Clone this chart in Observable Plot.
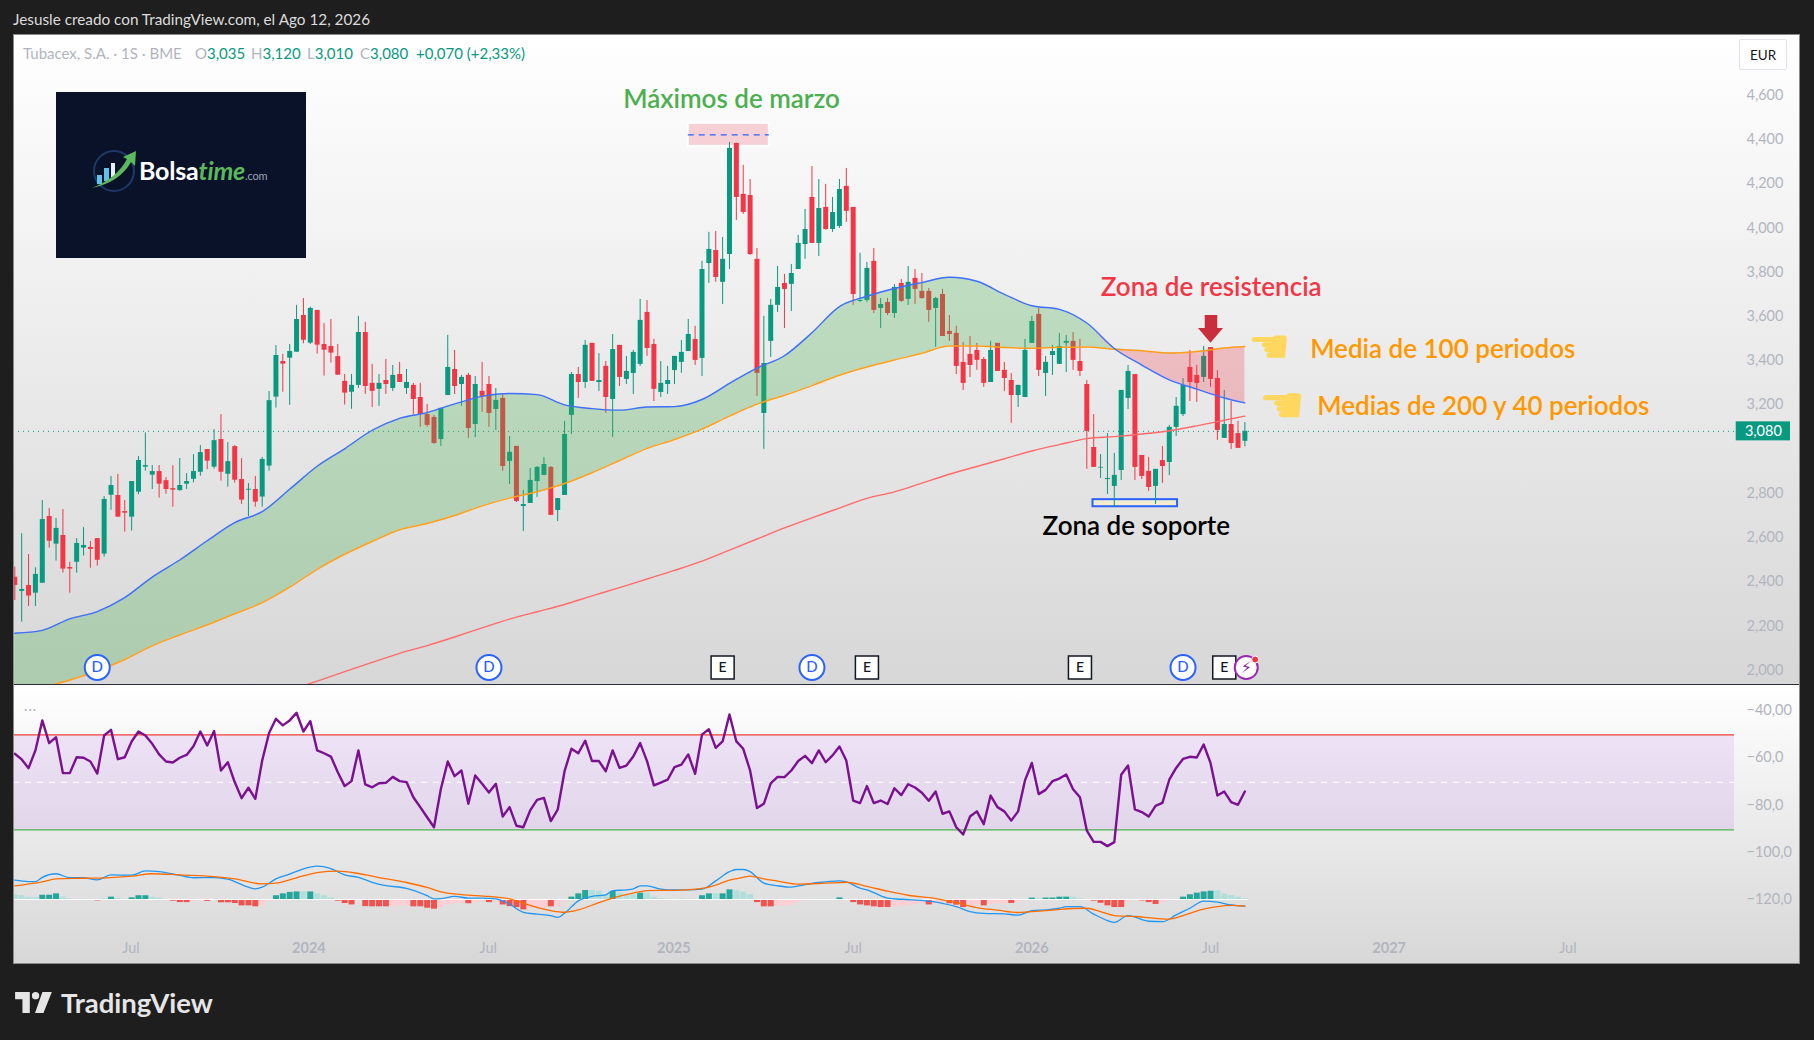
<!DOCTYPE html>
<html lang="es">
<head>
<meta charset="utf-8">
<title>Tubacex, S.A. · 1S · BME</title>
<script src="https://cdn.jsdelivr.net/npm/d3@7"></script>
<script src="https://cdn.jsdelivr.net/npm/@observablehq/plot@0.6"></script>
<style>
html,body{margin:0;padding:0;background:#1e1e1e;}
#stage{position:relative;width:1814px;height:1040px;overflow:hidden;background:#1e1e1e;font-family:Lato,"Noto Sans",sans-serif;}
.abs{position:absolute;}
#caption{left:13px;top:10px;font-size:15.3px;color:#dcdcdc;white-space:nowrap;}
.pane{left:13px;width:1787px;background:linear-gradient(#ffffff,#d7d7d7);overflow:hidden;}
#main{top:34px;height:650px;}
#lower{top:685px;height:279px;}
.pane svg{position:absolute;left:0;top:0;background:transparent!important;overflow:visible;}
#sep{left:13px;top:684px;width:1787px;height:1px;background:#2a2e39;}
#border{left:13px;top:34px;width:1787px;height:930px;box-shadow:inset 0 0 0 1px #8a8a8a;pointer-events:none;}
#legend{left:10px;top:10px;font-size:15px;color:#b2b5be;white-space:nowrap;}
#legend span{position:absolute;top:0;white-space:nowrap;}
#legend b{font-weight:400;color:#089981;}
#eur{left:1726px;top:5px;width:48px;height:31px;line-height:31px;text-align:center;font-size:13.5px;color:#131722;background:#fff;border:1px solid #e0e3eb;box-sizing:border-box;border-radius:2px;}
#logo{left:43px;top:58px;width:250px;height:166px;background:#0a1229;}
#logoText{position:absolute;left:83px;top:63px;font-size:25px;font-weight:700;color:#fff;white-space:nowrap;letter-spacing:-.2px;}
#logoText i{color:#5cb85c;font-weight:700;}
#logoText small{font-size:11px;color:#9aa3b5;font-weight:400;}
#dots{left:11px;top:16px;font-size:13px;color:#b2b5be;letter-spacing:1px;}
#tv{left:15px;top:986px;display:flex;align-items:center;color:#e6e6e6;font-size:27.5px;font-weight:700;}
#tv svg{margin-right:8px;}
</style>
</head>
<body>
<div id="stage">
  <div id="caption" class="abs">Jesusle creado con TradingView.com, el Ago 12, 2026</div>
  <div id="main" class="abs pane"></div>
  <div id="lower" class="abs pane"></div>
  <div id="sep" class="abs"></div>
  <div id="border" class="abs"></div>
  <div id="tv" class="abs">
    <svg width="38" height="21" viewBox="0 0 36 20" fill="#e6e6e6"><path d="M14 0H0v7h7v13h7V0Zm13 20h-8l7-20h9l-8 20ZM19.5 7a3.5 3.5 0 1 0 0-7 3.5 3.5 0 0 0 0 7Z"/></svg>
    <span>TradingView</span>
  </div>
</div>
<script>
// Weekly candles, thousandths of a euro
const open = [2420,2356,2383,2348,2393,2695,2570,2609,2464,2488,2552,2555,2595,2525,2791,2790,2717,2692,2805,2918,2882,2898,2857,2821,2812,2841,2863,2895,2998,2918,3043,2886,3011,2862,2814,2817,2783,2923,3235,3396,3411,3438,3604,3479,3627,3473,3464,3418,3306,3257,3288,3527,3297,3270,3310,3274,3337,3274,3288,3233,3156,3143,3043,3242,3360,3292,3333,3111,3261,3292,3179,3229,2944,3012,2740,2754,2853,2881,2917,2722,2790,3152,3337,3301,3478,3301,3374,3224,3469,3315,3342,3383,3618,3473,3256,3292,3355,3392,3441,3496,3410,3839,3898,3754,3880,4382,4152,4147,3858,3161,3487,3650,3749,3745,3812,3925,4138,3930,4093,3993,4007,4188,4093,3668,3672,3849,3636,3663,3613,3749,3677,3772,3713,3713,3636,3699,3532,3523,3392,3428,3446,3405,3301,3478,3356,3310,3242,3233,3478,3609,3342,3423,3383,3478,3487,3396,3292,3007,2914,2862,2831,2903,3229,3337,2971,2899,2831,2948,2939,3098,3156,3369,3333,3324,3459,3319,3048,3111,3070,3035];
const high = [2466,2617,2523,2463,2767,2731,2686,2726,2488,2595,2645,2582,2595,2785,2876,2885,2767,2853,2966,3073,2925,2925,2871,2925,2957,2889,2975,3016,2998,3088,3156,3029,3016,2957,2844,2876,2962,3260,3468,3428,3473,3650,3681,3642,3627,3568,3586,3473,3337,3337,3600,3573,3383,3337,3405,3378,3392,3360,3297,3297,3202,3152,3184,3514,3446,3333,3342,3328,3392,3328,3274,3247,3057,3012,2813,2912,2921,2962,2921,2776,3125,3346,3369,3491,3478,3432,3396,3518,3469,3419,3446,3677,3672,3496,3396,3374,3419,3491,3586,3555,3849,3980,3984,3957,4387,4384,4283,4219,3907,3600,3677,3826,3790,3835,3966,4084,4278,4219,4197,4138,4219,4269,4093,3885,3844,3907,3681,3681,3744,3767,3826,3812,3794,3726,3686,3722,3604,3555,3482,3509,3478,3414,3487,3478,3392,3342,3288,3496,3600,3636,3419,3469,3523,3514,3527,3496,3310,3156,2975,3070,2980,3265,3378,3337,2971,2962,2908,3012,3107,3233,3319,3446,3378,3464,3459,3355,3265,3215,3125,3120];
const low = [2315,2217,2288,2288,2393,2552,2493,2439,2348,2439,2516,2461,2470,2511,2723,2692,2624,2629,2793,2900,2817,2778,2796,2737,2809,2817,2847,2877,2907,2909,2855,2827,2846,2750,2695,2737,2737,2900,3185,3257,3198,3438,3476,3473,3429,3330,3389,3334,3199,3180,3274,3247,3188,3193,3247,3260,3301,3247,3156,3098,3098,3021,3012,3242,3247,3193,3048,3052,3166,3098,3084,2899,2840,2758,2627,2754,2781,2881,2700,2672,2790,3066,3229,3274,3306,3260,3161,3052,3283,3292,3247,3374,3419,3215,3233,3247,3292,3343,3441,3378,3328,3749,3754,3654,3812,4034,4061,3876,3238,2998,3414,3618,3545,3622,3812,3858,3930,3871,3989,3980,3998,4025,3650,3663,3663,3613,3545,3604,3591,3663,3650,3654,3677,3573,3460,3509,3487,3337,3265,3324,3356,3279,3301,3351,3260,3116,3188,3233,3478,3328,3238,3333,3383,3346,3356,3328,2908,2917,2867,2795,2740,2858,3179,2858,2862,2808,2749,2844,2880,3057,3147,3215,3211,3301,3279,3039,3048,2998,3003,3010];
const close = [2383,2365,2335,2433,2681,2583,2641,2457,2457,2573,2564,2546,2497,2772,2835,2692,2710,2853,2948,2925,2898,2841,2817,2814,2835,2853,2898,2984,2945,3038,2895,2943,2859,2769,2818,2760,2953,3219,3423,3384,3441,3586,3492,3636,3470,3447,3434,3334,3253,3288,3527,3283,3261,3297,3292,3333,3301,3301,3224,3156,3107,3025,3184,3369,3283,3324,3093,3292,3238,3161,3220,2921,2985,2763,2749,2858,2917,2930,2700,2776,3066,3337,3301,3469,3306,3310,3233,3450,3324,3351,3437,3582,3455,3270,3297,3310,3419,3437,3518,3401,3812,3903,3776,3858,4360,4138,4070,3880,3342,3387,3650,3731,3722,3794,3930,3993,3930,4088,3993,4070,4174,4075,3699,3672,3817,3627,3654,3613,3731,3668,3754,3722,3681,3627,3681,3509,3518,3374,3297,3378,3401,3297,3446,3351,3319,3242,3288,3446,3577,3356,3392,3441,3464,3487,3401,3351,3080,2917,2917,2867,2881,3265,3351,2917,2876,2826,2908,2921,3098,3193,3288,3301,3297,3419,3315,3084,3111,3025,3003,3080];

// Moving averages, read every fourth bar
const maBars  = [0,4,8,12,16,20,24,28,32,36,40,44,48,52,56,60,64,68,72,76,80,84,88,92,96,100,104,108,112,116,120,124,128,132,136,140,144,148,152,156,160,164,168,172,176,179];
const ma40    = [2167,2180,2232,2265,2328,2421,2498,2585,2667,2717,2818,2922,3001,3085,3139,3165,3204,3238,3251,3246,3200,3183,3176,3190,3192,3224,3297,3366,3422,3526,3644,3691,3726,3753,3777,3759,3700,3648,3632,3570,3455,3380,3313,3271,3231,3209];
const ma100   = [1880,1920,1955,1996,2048,2110,2159,2205,2255,2305,2375,2456,2524,2582,2635,2663,2699,2743,2778,2807,2844,2893,2948,3003,3043,3090,3149,3203,3243,3287,3334,3371,3403,3433,3466,3466,3459,3456,3460,3461,3451,3445,3434,3441,3457,3464];
const ma200Bars = [40,44,48,52,56,60,64,68,72,76,80,84,88,92,96,100,104,108,112,116,120,124,128,132,136,140,144,148,152,156,160,164,168,172,176,179];
const ma200   = [1910,1950,1993,2035,2076,2111,2150,2191,2231,2264,2297,2336,2373,2412,2451,2493,2543,2593,2643,2689,2733,2777,2806,2846,2886,2921,2956,2991,3020,3047,3056,3068,3083,3105,3130,3149];

// Oscillator pane
const rsi = [-58.3,-60.7,-64.4,-56.9,-44.2,-53.8,-51.3,-66.5,-66.5,-59.8,-60,-61.6,-66.7,-50.6,-48.2,-60.6,-59.8,-53.1,-48.9,-50.6,-54.1,-58.6,-61.6,-62,-60,-58.8,-55.1,-48.9,-54.8,-48.7,-65.4,-61.9,-70.3,-77.1,-72.7,-77.4,-61.2,-49.5,-43.5,-46.3,-44.2,-41,-48.9,-44.5,-56.9,-58.1,-59.5,-66.1,-72,-69.9,-56.9,-71.3,-72.5,-70.8,-70.6,-68.1,-69.9,-70.3,-76.7,-80.9,-85.2,-89.4,-73.2,-61.6,-67.8,-65.4,-79.5,-67.5,-71,-74.7,-71,-84.9,-80.9,-88.8,-89.4,-82.3,-77.8,-77,-86.8,-82,-65.7,-56.2,-58.1,-52.8,-61.4,-61.4,-65.7,-56.9,-64.3,-63.3,-59.5,-53.8,-61.4,-71.7,-70.5,-69.3,-64,-62.9,-58.6,-66.8,-50.2,-47.9,-55.8,-53.1,-41.7,-53.1,-56.2,-65.4,-81.3,-79.5,-70.8,-68.1,-68.2,-65.4,-61.4,-59.2,-62.3,-56.9,-61.9,-59,-55.2,-61.2,-78.1,-79.2,-72,-79.2,-78.1,-79.6,-72.9,-75.8,-71.2,-72.6,-74.8,-78.2,-74.3,-83.7,-82.7,-89.4,-92.5,-84.9,-82.7,-88.1,-76,-80.9,-82.7,-86.6,-82.7,-69.6,-62.2,-75.4,-73.6,-69.9,-68.8,-67.1,-73.3,-76.7,-90.8,-95.6,-95.6,-97.4,-95.7,-67.2,-63.3,-81.9,-83,-84.9,-80.4,-79.1,-69.3,-64.3,-60.5,-59.6,-59.9,-54.4,-62.2,-76,-74.3,-78.8,-79.9,-74.3];
const macdBars = [0,2,3,4,6,8,10,12,14,17,19,21,24,26,29,31,34,35,36,38,40,42,44,46,48,50,52,54,57,60,61,62,64,66,68,70,72,74,76,78,79,80,82,84,86,87,89,90,91,92,94,95,98,100,102,104,105,106,107,109,111,113,115,117,120,121,123,124,127,129,133,135,137,139,141,144,146,148,150,152,153,155,157,159,160,162,165,167,169,171,173,175,177,179];
const macd = [8.2,7.6,7.6,9.4,10.9,9.2,9.2,8.3,10.4,10.3,12.1,11.8,10.2,9.2,9.3,8.6,5.2,4.5,5.2,8.7,10.7,13,14.1,13.1,10.4,9.4,7.3,5.9,4.7,1.6,.3,.4,1.3,.6,.6,.3,-2,-5.4,-6.2,-6.8,-7.6,-5.8,-.6,1.3,2,3.7,4.1,4.5,5.8,5.8,4.4,4.1,4.1,4.4,7.9,11.8,12.7,12.7,11.8,6.9,5.8,5.2,6.3,7.2,7.9,7.5,4.8,4.1,.6,.1,-.7,-1.6,-3,-5.1,-5.9,-6.1,-6.6,-4.7,-4.4,-3.7,-3,-3,-6.2,-8.9,-9.7,-6.8,-9.2,-9.4,-6.5,-3.7,-.7,-1.1,-2.3,-2.8];
const signalBars = [0,4,6,10,14,17,20,24,29,32,36,38,41,44,47,50,53,57,60,62,65,69,72,75,78,80,82,85,87,90,92,96,100,102,104,106,107,109,111,114,118,121,124,127,130,134,137,140,143,146,148,151,154,156,158,160,163,166,168,170,173,175,177,179];
const signal = [5.8,7.5,8.7,9,9.3,9.9,10.9,10.4,9.7,8.7,6.6,6.9,9.2,11.4,12,11,9.3,7.2,5.1,3.2,2.1,1.3,.3,-2.5,-4.7,-5.4,-4.4,-1.3,.6,2.7,3.8,3.9,4.7,6.1,8.2,9.4,9.9,8.7,7.8,6.5,6.9,7.3,5.6,3.5,1.8,.4,-1.3,-3.4,-4.5,-5.5,-5.1,-4.5,-3.8,-3.7,-5.1,-6.8,-7.2,-8,-8.3,-6.8,-4.1,-3,-2.5,-2.8];
const hist = [2,1.6,1,.7,1.8,1.8,2.4,1,.3,.1,.1,-.1,-.6,.3,1,.6,.1,.7,1.6,1.6,1,.6,-.4,-.7,-1.3,-1.3,-.8,-.4,-.8,-.4,-1.4,-1.4,-1.7,-2.7,-2.7,-3.1,-2.5,-.8,1.6,2.4,3,3.2,3.2,3.2,2.4,1.6,.7,-.7,-1.7,-2.3,-.4,-3,-3.1,-3.1,-3.1,-3,-2.8,-2.7,-3.1,-3.1,-3.7,-4.1,-3.5,-2.3,-1.8,-1.6,-1.8,-1.3,-1,-1.3,-1,-2.3,-3,-3.4,-4.4,-3.7,-3.7,-3.7,-3.1,-3,-.8,1,2.4,3.8,3.8,3.5,2,3.4,2.7,2,2,2.7,2.7,1,.3,.1,.1,.3,.1,.05,1.6,2.4,2.4,2.4,4.1,3.7,3.2,2.1,-1.3,-3.1,-3.1,-2.8,-2.7,-2.3,-1.3,-.6,-.3,.1,.1,.1,.7,-.3,-1.3,-2.3,-2.7,-3.1,-3.4,-3.4,-3.2,-2.7,-2.5,-2.1,-1.8,-2.3,-1.8,-1.3,-1.8,-2.4,-3.4,-3,-2.3,-2.7,-2,-1.8,-1.8,-1.7,-1,-.6,.6,.4,.6,.6,1,1,1,.4,-.1,-.7,-1.6,-2.7,-3.4,-3.4,-1.3,-.4,-.6,-1.3,-2.1,-1.1,-.3,.1,1,2,2.7,3.2,3.5,3.7,2.4,1.7,1,.4];
// Histogram bars drawn in the saturated shade
const histStrongBars = [4,5,6,12,14,17,18,19,23,24,25,28,30,31,32,33,34,35,38,39,40,41,43,47,48,49,51,52,53,54,58,59,60,61,66,69,71,72,73,74,78,81,82,83,87,91,100,101,103,104,108,109,110,120,122,123,124,125,126,127,133,136,137,138,141,145,148,150,151,152,153,157,158,159,160,161,164,165,166,170,171,172,173,174];

// Axes
const priceTicks = [2000,2200,2400,2600,2800,3200,3400,3600,3800,4000,4200,4400,4600];
const oscTicks = [-40,-60,-80,-100,-120];
const oscLabels = ["−40,00","−60,0","−80,0","−100,0","−120,0"];
const yearBars = [42.8,95.9,148,200];
const yearLabels = ["2024","2025","2026","2027"];
const monthBars = [16.9,68.9,122,174,226];
const monthLabels = ["Jul","Jul","Jul","Jul","Jul"];
const lastPrice = 3080;

// Annotations (bar number, price)
const notes = ["Máximos de marzo","Zona de resistencia","Zona de soporte","Media de 100 periodos","Medias de 200 y 40 periodos"];
const noteBars = [104.3,174.1,163.2,207.8,213.7];
const notePrices = [4581,3731,2647,3448,3192];
const noteColors = ["#4caf50","#f23645","#000000","#ff9800","#ff9800"];
const handBars = [182.6,184.4];
const handSizes = [48,52];
const handPrices = [3459,3192];
const dividendBars = [12,69,116,170];
const earningsBars = [103,124,155,176];
const markerPrice = 2012;

const X0 = -0.19, X1 = 250.25;
const GREEN = "#089981", RED = "#f23645";
const fmtPrice = d => (d/1000).toFixed(3).replace(".",",");
const FONT = 'Lato,"Noto Sans",sans-serif';

const candles = open.map((o,i)=>({i,o,h:high[i],l:low[i],c:close[i]}));
const up = candles.filter(d=>d.c>=d.o), down = candles.filter(d=>d.c<d.o);
const maRows = maBars.map((i,k)=>({i,a:ma40[k],b:ma100[k],top:Math.max(ma40[k],ma100[k])}));
const ma200Rows = ma200Bars.map((i,k)=>({i,v:ma200[k]}));
const noteRows = notes.map((t,k)=>({t,i:noteBars[k],p:notePrices[k],c:noteColors[k]}));

const candleMarks = (rows,color)=>[
  Plot.ruleX(rows,{x:"i",y1:"l",y2:"h",stroke:color,strokeWidth:1,clip:true}),
  Plot.ruleX(rows,{x:"i",y1:d=>Math.min(d.o,d.c),y2:d=>Math.max(d.o,d.c),stroke:color,strokeWidth:5,clip:true})
];

const mainPlot = Plot.plot({
  width:1787,height:650,marginLeft:0,marginRight:66,marginTop:0,marginBottom:0,
  style:{background:"transparent",fontFamily:FONT},
  x:{domain:[X0,X1],axis:null},
  y:{domain:[1935,4875]},
  marks:[
    Plot.axisY({anchor:"right",ticks:priceTicks,tickSize:0,tickPadding:12,tickFormat:fmtPrice,fontSize:14.5,fill:"#b2b5be",label:null}),
    // highlight zones behind the candles
    Plot.rect([{x1:98,x2:109.8,y1:4369,y2:4473}],{x1:"x1",x2:"x2",y1:"y1",y2:"y2",fill:"#f7d0d6",stroke:"#ffffff",strokeWidth:2}),
    Plot.ruleY([4421],{x1:98,x2:109.8,stroke:"#2962ff",strokeWidth:1.2,strokeDasharray:"6,5"}),
    Plot.rect([{x1:156.9,x2:169.2,y1:2739,y2:2771}],{x1:"x1",x2:"x2",y1:"y1",y2:"y2",fill:"#f3ecd0",stroke:"#2962ff",strokeWidth:2}),
    Plot.ruleY([lastPrice],{x1:X0,x2:X1,stroke:GREEN,strokeWidth:1,strokeDasharray:"1,4"}),
    ...candleMarks(up,GREEN),
    ...candleMarks(down,RED),
    // band between the 40 and 100 period averages
    Plot.areaY(maRows,{x:"i",y1:"b",y2:"top",fill:"#4caf50",fillOpacity:.3,curve:"monotone-x",clip:true}),
    Plot.areaY(maRows,{x:"i",y1:"a",y2:"top",fill:"#f23645",fillOpacity:.26,curve:"monotone-x",clip:true}),
    Plot.line(ma200Rows,{x:"i",y:"v",stroke:"#ff6b6b",strokeWidth:1.4,curve:"monotone-x",clip:true}),
    Plot.line(maRows,{x:"i",y:"b",stroke:"#ff9f1a",strokeWidth:1.5,curve:"monotone-x",clip:true}),
    Plot.line(maRows,{x:"i",y:"a",stroke:"#3f6fff",strokeWidth:1.4,curve:"monotone-x",clip:true}),
    // notes
    Plot.text(noteRows,{x:"i",y:"p",text:"t",fill:"c",fontSize:26,fontWeight:600,lineAnchor:"middle"}),
    Plot.text(handBars.map((i,k)=>({i,p:handPrices[k],s:handSizes[k]})),{x:"i",y:"p",text:()=>"☚",fill:"#ffd75e",fontSize:"s",fontFamily:"DejaVu Sans"}),
    // red arrow at the resistance
    Plot.ruleX([174.07],{y1:3545,y2:3604,stroke:"#c92e3d",strokeWidth:12.5}),
    Plot.areaY([{i:172.25,t:3545},{i:174.07,t:3479},{i:175.89,t:3545}],{x:"i",y1:3545,y2:"t",fill:"#c92e3d"}),
    // last price tag
    Plot.rect([{x1:250.5,x2:258.4,y1:3037,y2:3123}],{x1:"x1",x2:"x2",y1:"y1",y2:"y2",fill:GREEN}),
    Plot.text([lastPrice],{x:254.45,y:d=>d,text:fmtPrice,fill:"#fff",fontSize:14.5}),
    // event badges
    Plot.dot(dividendBars,{x:d=>d,y:markerPrice,r:12.5,fill:"#fff",stroke:"#2962ff",strokeWidth:2}),
    Plot.text(dividendBars,{x:d=>d,y:markerPrice,text:()=>"D",fill:"#2962ff",fontSize:15,fontWeight:500}),
    Plot.dot(earningsBars,{x:d=>d,y:markerPrice,symbol:"square",r:13,fill:"#fff",stroke:"#131722",strokeWidth:1.5}),
    Plot.text(earningsBars,{x:d=>d,y:markerPrice,text:()=>"E",fill:"#131722",fontSize:14,fontWeight:500}),
    Plot.dot([179.2],{x:d=>d,y:markerPrice,r:11.5,fill:"#fff",stroke:"#9c27b0",strokeWidth:2}),
    Plot.text([179.2],{x:d=>d,y:markerPrice,text:()=>"⚡",fill:"#8e1fa8",fontSize:16,fontFamily:"DejaVu Sans"}),
    Plot.dot([180.5],{x:d=>d,y:2048,r:3.5,fill:"#f23645",stroke:"#fff",strokeWidth:1})
  ]
});

const strong = new Set(histStrongBars);
const histRows = hist.map((v,i)=>({i,v,color:v>=0?(strong.has(i)?"#26a69a":"#b2dfdb"):(strong.has(i)?"#ef5350":"#ffcdd2")}));
const BASE = -120;

const lowerPlot = Plot.plot({
  width:1787,height:279,marginLeft:0,marginRight:66,marginTop:0,marginBottom:34,
  style:{background:"transparent",fontFamily:FONT},
  x:{domain:[X0,X1]},
  y:{domain:[-133.12,-29.42]},
  color:{type:"identity"},
  marks:[
    Plot.rect([{y1:-90.5,y2:-50.3}],{x1:X0,x2:X1,y1:"y1",y2:"y2",fill:"#9a3fe6",fillOpacity:.12}),
    Plot.ruleY([-50.3],{stroke:"#f44336",strokeWidth:1.2}),
    Plot.ruleY([-90.5],{stroke:"#4caf50",strokeWidth:1.2}),
    Plot.ruleY([-70.4],{stroke:"#ffffff",strokeWidth:1,strokeDasharray:"6,6"}),
    Plot.line(rsi.map((v,i)=>({i,v})),{x:"i",y:"v",stroke:"#7b1091",strokeWidth:2.4,clip:true}),
    Plot.ruleX(histRows,{x:"i",y1:BASE,y2:d=>BASE+d.v,stroke:"color",strokeWidth:6}),
    Plot.ruleY([BASE],{x1:0,x2:179.5,stroke:"#ffffff",strokeWidth:1.2}),
    Plot.line(macdBars.map((i,k)=>({i,v:BASE+macd[k]})),{x:"i",y:"v",stroke:"#2196f3",strokeWidth:1.3,curve:"monotone-x",clip:true}),
    Plot.line(signalBars.map((i,k)=>({i,v:BASE+signal[k]})),{x:"i",y:"v",stroke:"#ff6d00",strokeWidth:1.3,curve:"monotone-x",clip:true}),
    Plot.axisY({anchor:"right",ticks:oscTicks,tickSize:0,tickPadding:12,tickFormat:d=>oscLabels[oscTicks.indexOf(d)],fontSize:14.5,fill:"#b2b5be",label:null}),
    Plot.axisX({ticks:yearBars,tickSize:0,tickPadding:12,tickFormat:d=>yearLabels[yearBars.indexOf(d)],fontSize:14.5,fontWeight:700,fill:"#b2b5be",label:null}),
    Plot.axisX({ticks:monthBars,tickSize:0,tickPadding:12,tickFormat:d=>monthLabels[monthBars.indexOf(d)],fontSize:14.5,fill:"#b2b5be",label:null})
  ]
});

document.getElementById("main").append(mainPlot);
document.getElementById("lower").append(lowerPlot);

// Header row, price-scale button and brand box
const main = document.getElementById("main");
const legend = document.createElement("div");
legend.id="legend"; legend.className="abs";
legend.innerHTML = `<span style="left:0">Tubacex, S.A. · 1S · BME</span>
<span style="left:172px">O<b>3,035</b></span><span style="left:228px">H<b>3,120</b></span>
<span style="left:284px">L<b>3,010</b></span><span style="left:337px">C<b>3,080</b></span>
<span style="left:393px"><b>+0,070 (+2,33%)</b></span>`;
main.append(legend);
const eur = document.createElement("div"); eur.id="eur"; eur.className="abs"; eur.textContent="EUR"; main.append(eur);
const logo = document.createElement("div"); logo.id="logo"; logo.className="abs";
logo.innerHTML = `<svg width="70" height="60" viewBox="0 0 70 60" style="position:absolute;left:31px;top:50px">
<circle cx="27" cy="29" r="20" fill="none" stroke="#1d3a66" stroke-width="2"/>
<rect x="10" y="33" width="5" height="9" fill="#5fc3e8"/><rect x="17" y="26" width="5" height="13" fill="#5fc3e8"/><rect x="24" y="21" width="4" height="14" fill="#e8eef5"/>
<path d="M5 46 Q30 36 40 17 L36 15 L49 9 L48 24 L44 20 Q33 40 5 46Z" fill="#5cb85c"/></svg>
<div id="logoText">Bolsa<i>time</i><small>.com</small></div>`;
main.append(logo);
const dots = document.createElement("div"); dots.id="dots"; dots.className="abs"; dots.textContent="···";
document.getElementById("lower").append(dots);
</script>
</body>
</html>
